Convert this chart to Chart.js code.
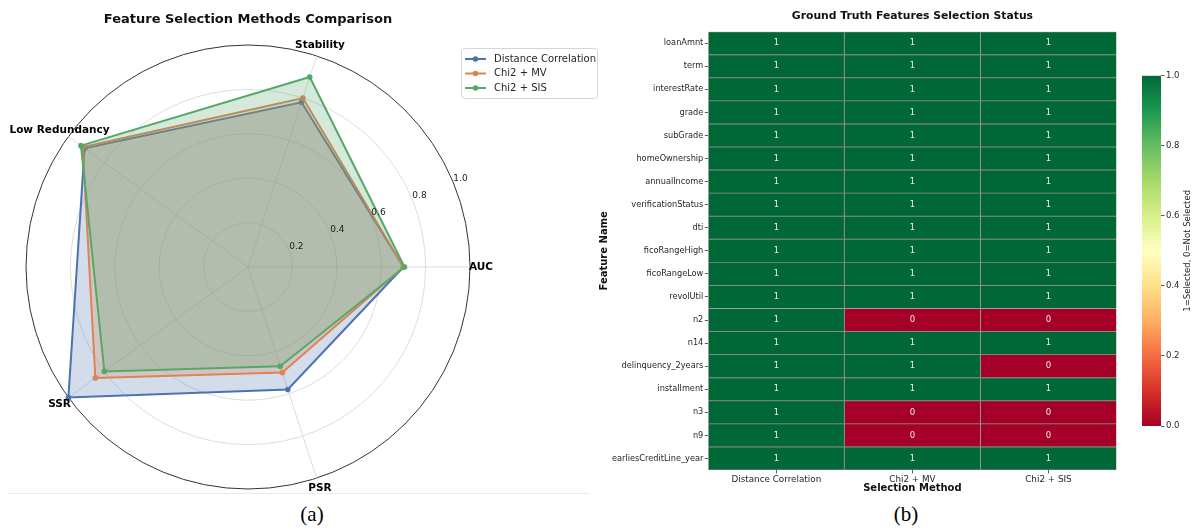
<!DOCTYPE html>
<html>
<head>
<meta charset="utf-8">
<script src="https://cdn.jsdelivr.net/npm/chart.js@4.4.1/dist/chart.umd.min.js"></script>
<style>
  body { margin: 0; background: #fff; }
  #page { position: relative; width: 1197px; height: 532px; overflow: hidden; background: #fff; }
  canvas { position: absolute; top: 0; }
  #radarChart { left: 0; }
  #heatChart { left: 590px; }
  #cbarChart { left: 1130px; }
  .caption { position: absolute; top: 502px; width: 60px; text-align: center;
             font: 21px "Liberation Serif", "DejaVu Serif", serif; color: #000; }
  .rule { position: absolute; left: 7px; top: 493px; width: 583px; border-top: 1px solid #ececec; }
</style>
</head>
<body>
<div id="page">
  <canvas id="radarChart" width="600" height="500"></canvas>
  <canvas id="heatChart" width="540" height="500"></canvas>
  <canvas id="cbarChart" width="67" height="500"></canvas>
  <div class="rule"></div>
  <div class="caption" style="left:282px">(a)</div>
  <div class="caption" style="left:876px">(b)</div>
</div>
<script>
Chart.defaults.font.family = '"DejaVu Sans", sans-serif';
Chart.defaults.color = '#262626';

// ---- radar: scores per metric ----
const metrics = ['AUC', 'Stability', 'Low Redundancy', 'SSR', 'PSR'];
const radarTicks = [0.2, 0.4, 0.6, 0.8, 1.0];
const distCorrScores = [0.70, 0.78, 0.91, 1.00, 0.58];
const chi2MvScores = [0.70, 0.80, 0.92, 0.85, 0.50];
const chi2SisScores = [0.705, 0.90, 0.93, 0.80, 0.47];

// ---- heatmap: 1 = selected, 0 = not selected ----
const methods = ['Distance Correlation', 'Chi2 + MV', 'Chi2 + SIS'];
const features = ['loanAmnt', 'term', 'interestRate', 'grade', 'subGrade', 'homeOwnership',
  'annualIncome', 'verificationStatus', 'dti', 'ficoRangeHigh', 'ficoRangeLow', 'revolUtil',
  'n2', 'n14', 'delinquency_2years', 'installment', 'n3', 'n9', 'earliesCreditLine_year'];
const distCorrSel = [1, 1, 1, 1, 1, 1, 1, 1, 1, 1, 1, 1, 1, 1, 1, 1, 1, 1, 1];
const chi2MvSel   = [1, 1, 1, 1, 1, 1, 1, 1, 1, 1, 1, 1, 0, 1, 1, 1, 0, 0, 1];
const chi2SisSel  = [1, 1, 1, 1, 1, 1, 1, 1, 1, 1, 1, 1, 0, 1, 0, 1, 0, 0, 1];
const cbarTicks = [0, 0.2, 0.4, 0.6, 0.8, 1.0];

const selection = [distCorrSel, chi2MvSel, chi2SisSel];
const palette = ['#4C72B0', '#DD8452', '#55A868'];

// RdYlGn colormap
const rdYlGn = ['#a50026', '#d73027', '#f46d43', '#fdae61', '#fee08b', '#ffffbf',
  '#d9ef8b', '#a6d96a', '#66bd63', '#1a9850', '#006837'];
function hexRgb(h) { return [1, 3, 5].map(k => parseInt(h.substr(k, 2), 16)); }
function cmap(v) {
  const t = Math.max(0, Math.min(1, v)) * 10;
  const i = Math.min(9, Math.floor(t)), f = t - i;
  const a = hexRgb(rdYlGn[i]), b = hexRgb(rdYlGn[i + 1]);
  return 'rgb(' + a.map((c, k) => Math.round(c + (b[k] - c) * f)).join(',') + ')';
}
function alpha(hex, a) {
  return 'rgba(' + hexRgb(hex).join(',') + ',' + a + ')';
}

// matplotlib runs the spokes counter-clockwise from east, Chart.js clockwise
const spoke = [0, 4, 3, 2, 1];
const byspoke = arr => spoke.map(i => arr[i]);

const radarText = {
  id: 'radarText',
  afterDatasetsDraw(chart) {
    const r = chart.scales.r, ctx = chart.ctx;
    const a = 22.5 * Math.PI / 180;
    ctx.save();
    ctx.font = '9px "DejaVu Sans"';
    ctx.fillStyle = '#1a1a1a';
    ctx.textAlign = 'center';
    ctx.textBaseline = 'middle';
    radarTicks.forEach(v => {
      const d = r.getDistanceFromCenterForValue(v) + 8;
      ctx.fillText(v.toFixed(1), r.xCenter + d * Math.cos(a), r.yCenter - d * Math.sin(a));
    });
    ctx.restore();
  },
  afterDraw(chart) {
    const r = chart.scales.r, ctx = chart.ctx;
    ctx.save();
    ctx.font = 'bold 10.5px "DejaVu Sans"';
    ctx.fillStyle = '#000';
    ctx.textAlign = 'center';
    ctx.textBaseline = 'middle';
    chart.data.labels.forEach((lab, i) => {
      const p = r.getPointPosition(i, r.drawingArea + 11);
      ctx.fillText(lab, p.x, p.y);
    });

    // legend box, top right
    ctx.fillStyle = 'rgba(255,255,255,0.8)';
    ctx.strokeStyle = '#d6d6d6';
    ctx.lineWidth = 1;
    ctx.beginPath();
    ctx.roundRect(461.5, 48.5, 136, 50, 3);
    ctx.fill();
    ctx.stroke();
    ctx.font = '10px "DejaVu Sans"';
    ctx.textAlign = 'left';
    chart.data.datasets.forEach((ds, k) => {
      const y = 59 + k * 14.5;
      ctx.strokeStyle = ds.borderColor;
      ctx.lineWidth = 2;
      ctx.beginPath();
      ctx.moveTo(465, y);
      ctx.lineTo(486, y);
      ctx.stroke();
      ctx.fillStyle = ds.borderColor;
      ctx.beginPath();
      ctx.arc(475.5, y, 2.8, 0, Math.PI * 2);
      ctx.fill();
      ctx.fillStyle = '#262626';
      ctx.fillText(ds.label, 494, y);
    });
    ctx.restore();
  }
};

const radarSeries = [
  ['Distance Correlation', distCorrScores],
  ['Chi2 + MV', chi2MvScores],
  ['Chi2 + SIS', chi2SisScores]
];

new Chart(document.getElementById('radarChart'), {
  type: 'radar',
  data: {
    labels: byspoke(metrics),
    datasets: radarSeries.map(([name, vals], k) => ({
      label: name,
      data: byspoke(vals),
      borderColor: palette[k],
      backgroundColor: alpha(palette[k], 0.25),
      borderWidth: 2,
      pointRadius: 2.8,
      pointBackgroundColor: palette[k],
      pointBorderWidth: 0,
      fill: true,
      order: 3 - k
    }))
  },
  options: {
    responsive: false,
    animation: false,
    layout: { padding: { left: 26, right: 130, top: 0, bottom: 11 } },
    plugins: {
      legend: { display: false },
      tooltip: { enabled: false },
      title: {
        display: true,
        text: 'Feature Selection Methods Comparison',
        color: '#111',
        font: { size: 13, weight: 'bold' },
        padding: { top: 12, bottom: 17.4 }
      }
    },
    scales: {
      r: {
        min: 0,
        max: 1,
        startAngle: 90,
        ticks: { display: false, stepSize: 0.2 },
        pointLabels: { display: false },
        grid: {
          circular: true,
          color: c => (c.tick && c.tick.value > 0.999 ? '#333' : '#d4d4d4'),
          lineWidth: c => (c.tick && c.tick.value > 0.999 ? 1 : 0.8)
        },
        angleLines: { color: '#d4d4d4', lineWidth: 0.8 }
      }
    }
  },
  plugins: [radarText]
});

// heatmap cells carry their 0/1 value as text
const cellText = {
  id: 'cellText',
  afterDatasetsDraw(chart) {
    const ctx = chart.ctx;
    ctx.save();
    ctx.font = '8.5px "DejaVu Sans"';
    ctx.fillStyle = '#eeeeee';
    ctx.textAlign = 'center';
    ctx.textBaseline = 'middle';
    chart.data.datasets.forEach((ds, j) => {
      chart.getDatasetMeta(j).data.forEach((bar, i) => {
        const { x, y, base } = bar.getProps(['x', 'y', 'base']);
        ctx.fillText(String(selection[j][i]), (x + base) / 2, y);
      });
    });
    ctx.restore();
  }
};

new Chart(document.getElementById('heatChart'), {
  type: 'bar',
  data: {
    labels: features,
    datasets: methods.map((m, j) => ({
      label: m,
      data: features.map(() => 1),
      backgroundColor: selection[j].map(v => cmap(v)),
      borderColor: '#8a8a8a',
      borderWidth: 0.8,
      borderSkipped: false,
      barPercentage: 1,
      categoryPercentage: 1
    }))
  },
  options: {
    indexAxis: 'y',
    responsive: false,
    animation: false,
    layout: { padding: { left: 0, right: 13.5, top: 0, bottom: 0 } },
    plugins: {
      legend: { display: false },
      tooltip: { enabled: false },
      title: {
        display: true,
        fullSize: false,
        text: 'Ground Truth Features Selection Status',
        color: '#111',
        font: { size: 10.8, weight: 'bold' },
        padding: { top: 9.5, bottom: 9.2 }
      }
    },
    scales: {
      x: {
        stacked: true,
        min: 0,
        max: methods.length,
        afterBuildTicks: s => { s.ticks = methods.map((_, j) => ({ value: j + 0.5 })); },
        ticks: { callback: (v, i) => methods[i], font: { size: 8.8 }, padding: 0.5, autoSkip: false, maxRotation: 0 },
        grid: { drawOnChartArea: false, tickLength: 3.5, color: '#333', lineWidth: 0.8 },
        border: { display: false },
        title: { display: true, text: 'Selection Method', color: '#111',
                 font: { size: 10, weight: 'bold' }, padding: { top: 0, bottom: 5.7 } },
        afterFit: s => { s.height = 30; }
      },
      y: {
        stacked: true,
        ticks: { font: { size: 8.2 }, padding: 1.5, autoSkip: false },
        grid: { offset: false, drawOnChartArea: false, tickLength: 3.5, color: '#333', lineWidth: 0.8 },
        border: { display: false },
        title: { display: true, text: 'Feature Name', color: '#111',
                 font: { size: 10, weight: 'bold' }, padding: { top: 8.5, bottom: 0 } },
        afterFit: s => { s.width = 118.3; }
      }
    }
  },
  plugins: [cellText]
});

// colorbar title reads bottom to top
const cbarTitle = {
  id: 'cbarTitle',
  afterDraw(chart) {
    const a = chart.chartArea, ctx = chart.ctx;
    ctx.save();
    ctx.translate(58, (a.top + a.bottom) / 2);
    ctx.rotate(-Math.PI / 2);
    ctx.font = '8.5px "DejaVu Sans"';
    ctx.fillStyle = '#262626';
    ctx.textAlign = 'center';
    ctx.textBaseline = 'middle';
    ctx.fillText('1=Selected, 0=Not Selected', 0, 0);
    ctx.restore();
  }
};

new Chart(document.getElementById('cbarChart'), {
  type: 'bar',
  data: {
    labels: [''],
    datasets: [{
      data: [cbarTicks[cbarTicks.length - 1]],
      backgroundColor: c => {
        const y = c.chart.scales.y;
        if (!y || !c.chart.chartArea) return rdYlGn[10];
        const y0 = y.getPixelForValue(0), y1 = y.getPixelForValue(1);
        if (!isFinite(y0) || !isFinite(y1)) return rdYlGn[10];
        const g = c.chart.ctx.createLinearGradient(0, y0, 0, y1);
        rdYlGn.forEach((col, i) => g.addColorStop(i / 10, col));
        return g;
      },
      borderWidth: 0,
      barPercentage: 1,
      categoryPercentage: 1
    }]
  },
  options: {
    responsive: false,
    animation: false,
    layout: { padding: { left: 12, right: 0, top: 75.7, bottom: 74 } },
    plugins: { legend: { display: false }, tooltip: { enabled: false } },
    scales: {
      x: { display: false },
      y: {
        position: 'right',
        min: 0,
        max: 1,
        afterBuildTicks: s => { s.ticks = cbarTicks.map(v => ({ value: v })); },
        ticks: { callback: v => v.toFixed(1), font: { size: 8.5 }, padding: 1.5 },
        grid: { drawOnChartArea: false, tickLength: 3.5, color: '#333', lineWidth: 0.8 },
        border: { display: false },
        afterFit: s => { s.width = 36; }
      }
    }
  },
  plugins: [cbarTitle]
});
</script>
</body>
</html>
